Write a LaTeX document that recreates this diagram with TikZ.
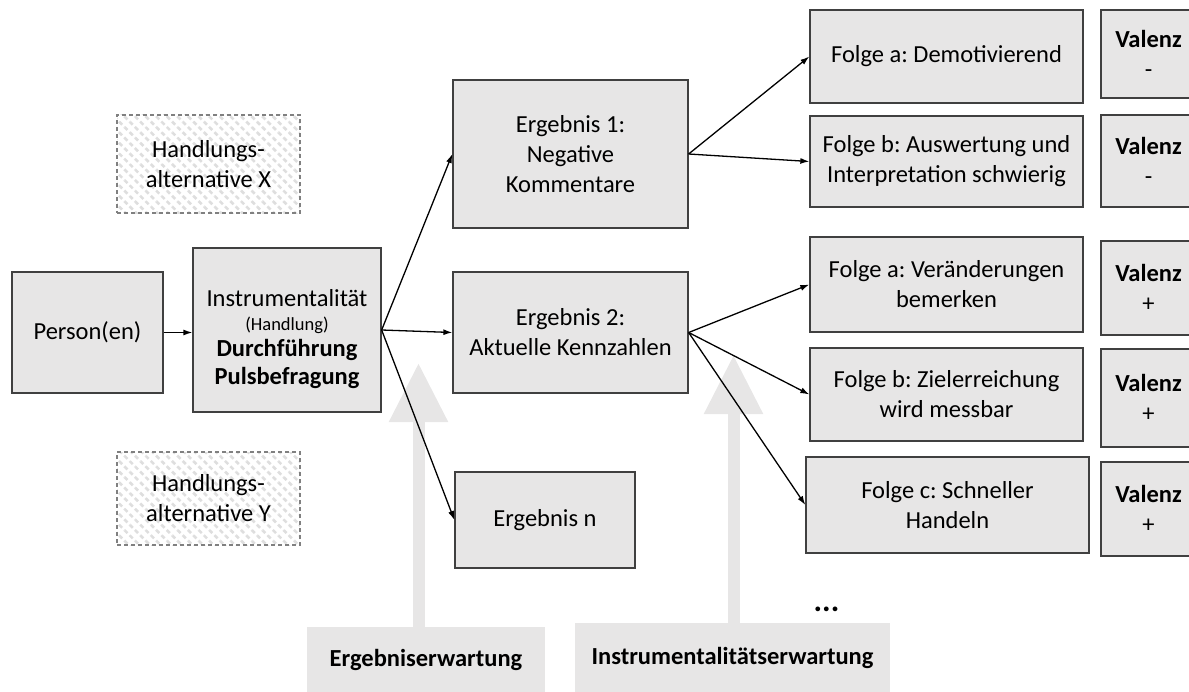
\documentclass[tikz,border=0pt]{standalone}
\usepackage{fontspec}
\setmainfont{Carlito}
\frenchspacing
\usetikzlibrary{arrows.meta,patterns.meta}
\definecolor{boxfill}{HTML}{E7E6E6}
\definecolor{boxline}{HTML}{404040}
\definecolor{hatchline}{HTML}{808080}
\tikzset{
  box/.style={draw=boxline,line width=1.3bp,fill=boxfill,inner sep=0pt,align=center},
  altbox/.style={draw=hatchline,line width=1.1bp,dash pattern=on 4bp off 3bp,
    pattern={Lines[angle=-45,distance=7.5bp,line width=2.6bp]},pattern color=black!13,
    inner sep=0pt,align=center},
  valbox/.style={box,minimum width=95bp},
  labelbox/.style={fill=boxfill,inner sep=0pt,font=\bfseries\fontsize{24.5bp}{30bp}\selectfont},
  conn/.style={-{Latex[length=9bp,width=6bp]},line width=1.3bp,black},
  bigarrow/.style={draw=boxfill,line width=12bp,-{Triangle[width=56bp,length=59bp]}},
}
\begin{document}
\begin{tikzpicture}[x=1bp,y=-1bp,font=\fontsize{24.5bp}{30bp}\selectfont]
\useasboundingbox (0,0) rectangle (1189,692);
%% Nodes
  % Node: person
  \node [box,minimum width=151bp,minimum height=121bp] (person) at (87.5,332.5) {Person(en)};
  % Node: instr
  \node [box,minimum width=188bp,minimum height=164bp] (instr) at (287,330)
    {\rule{0pt}{36bp}Instrumentalität\\[-6bp]{\fontsize{18.5bp}{22bp}\selectfont (Handlung)}\\[-4bp]\textbf{Durchführung}\\[-2bp]\textbf{Pulsbefragung}};
  % Node: altx, alty
  \node [altbox,minimum width=183bp,minimum height=98bp] (altx) at (208.5,164) {Handlungs-\\alternative X};
  \node [altbox,minimum width=183bp,minimum height=93bp] (alty) at (208.5,498.5) {Handlungs-\\alternative Y};
  % Node: erg1, erg2, ergn
  \node [box,minimum width=235bp,minimum height=148bp] (erg1) at (570.5,154) {Ergebnis 1:\\Negative\\Kommentare};
  \node [box,minimum width=235bp,minimum height=121bp] (erg2) at (570.5,332.5) {Ergebnis 2:\\Aktuelle Kennzahlen};
  \node [box,minimum width=180bp,minimum height=96bp] (ergn) at (545,520) {Ergebnis n};
  % Node: Folgen
  \node [box,minimum width=273bp,minimum height=93bp] (fa1) at (946.5,56.5) {Folge a: Demotivierend};
  \node [box,minimum width=273bp,minimum height=91bp] (fb1) at (946.5,161.5) {Folge b: Auswertung und\\Interpretation schwierig};
  \node [box,minimum width=273bp,minimum height=95bp] (fa2) at (946.5,284.5) {Folge a: Veränderungen\\bemerken};
  \node [box,minimum width=273bp,minimum height=93bp] (fb2) at (946.5,394.5) {Folge b: Zielerreichung\\wird messbar};
  \node [box,minimum width=283bp,minimum height=96bp] (fc2) at (947.5,505) {Folge c: Schneller\\Handeln};
  % Node: Valenz
  \node [valbox,minimum height=88bp] (v1) at (1148.5,54) {\textbf{Valenz}\\-};
  \node [valbox,minimum height=92bp] (v2) at (1148.5,161) {\textbf{Valenz}\\-};
  \node [valbox,minimum height=94bp] (v3) at (1148.5,288) {\textbf{Valenz}\\+};
  \node [valbox,minimum height=98bp] (v4) at (1148.5,398) {\textbf{Valenz}\\+};
  \node [valbox,minimum height=94bp] (v5) at (1148.5,509) {\textbf{Valenz}\\+};
  % Node: dots
  \node [font=\bfseries\fontsize{32bp}{36bp}\selectfont] (dots) at (826.5,609) {...};
  % Node: expectations
  \node [labelbox,minimum width=238bp,minimum height=66bp] (ergw) at (426,660) {Ergebniserwartung};
  \node [labelbox,minimum width=315bp,minimum height=70bp] (instw) at (732.5,658) {Instrumentalitätserwartung};
  \coordinate (tip1) at (418.5,363);
  \coordinate (tip2) at (733.5,355);
%% Edges
  % Edge: expectation arrows
  \draw [bigarrow] (ergw.north -| tip1) -- (tip1);
  \draw [bigarrow] (instw.north -| tip2) -- (tip2);
  % Edge: person -> instr
  \draw [conn] (person.east) -- (instr.west |- person.east);
  % Edge: instr -> Ergebnisse
  \draw [conn] (instr.east) -- (erg1.west);
  \draw [conn] (instr.east) -- (erg2.west);
  \draw [conn] (instr.east) -- (ergn.west);
  % Edge: erg1 -> Folgen
  \draw [conn] (erg1.east) -- (fa1.west);
  \draw [conn] (erg1.east) -- (fb1.west);
  % Edge: erg2 -> Folgen
  \draw [conn] (erg2.east) -- (fa2.west);
  \draw [conn] (erg2.east) -- (fb2.west);
  \draw [conn] (erg2.east) -- (fc2.west);
%
\end{tikzpicture}
\end{document}
